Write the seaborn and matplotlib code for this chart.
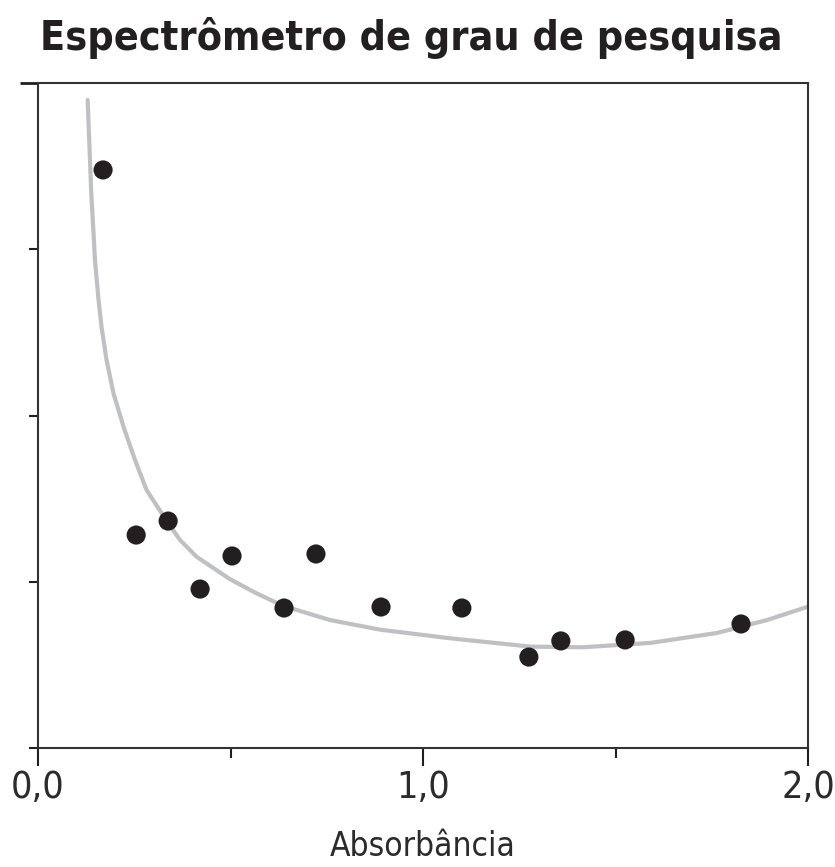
import matplotlib
matplotlib.use("Agg")
import matplotlib.pyplot as plt
import seaborn as sns
import pandas as pd
from matplotlib.ticker import FixedLocator, NullFormatter

sns.set_theme(style="white")
plt.rcParams['font.family'] = ['DejaVu Sans']
plt.rcParams['font.stretch'] = 'condensed'

# measured points
pt_x = [0.169, 0.255, 0.338, 0.421, 0.504, 0.639, 0.722, 0.891, 1.101, 1.275, 1.358, 1.525, 1.826]
pt_y = [3.477, 1.281, 1.365, 0.956, 1.155, 0.842, 1.167, 0.848, 0.842, 0.547, 0.644, 0.650, 0.746]

# reference curve
cv_x = [0.129, 0.138, 0.148, 0.157, 0.165, 0.178, 0.196, 0.222, 0.252, 0.282,
        0.338, 0.369, 0.412, 0.499, 0.568, 0.637, 0.758, 0.888, 1.070, 1.278, 1.416, 1.590,
        1.764, 1.894, 1.997]
cv_y = [3.898, 3.356, 2.935, 2.700, 2.534, 2.334, 2.134, 1.933, 1.732, 1.552,
        1.352, 1.251, 1.150, 1.015, 0.930, 0.855, 0.770, 0.712, 0.660, 0.610, 0.606, 0.632,
        0.692, 0.770, 0.848]

x_ticks = [0.0, 1.0, 2.0]
x_labels = ["0,0", "1,0", "2,0"]
title = "Espectrômetro de grau de pesquisa"
xlabel = "Absorbância"

fig = plt.figure(figsize=(8.35, 8.67), dpi=100)
ax = fig.add_axes([38/835, 1 - 748/867, (808-38)/835, (748-83)/867])

curve = pd.DataFrame({"x": cv_x, "y": cv_y})
pts = pd.DataFrame({"x": pt_x, "y": pt_y})
sns.lineplot(data=curve, x="x", y="y", ax=ax, color="#bfc0c4", linewidth=3.0, sort=False)
sns.scatterplot(data=pts, x="x", y="y", ax=ax, color="#231f20", s=190, edgecolor="none", zorder=3)

ax.set_xlim(0, 2)
ax.set_ylim(0, 4)
ax.xaxis.set_major_locator(FixedLocator(x_ticks))
ax.set_xticklabels(x_labels)
ax.xaxis.set_minor_locator(FixedLocator([0.5, 1.5]))
ax.yaxis.set_major_locator(FixedLocator([4]))
ax.yaxis.set_minor_locator(FixedLocator([0, 1, 2, 3]))
ax.yaxis.set_major_formatter(NullFormatter())
ax.tick_params(axis="x", which="major", direction="out", length=13, width=1.5, color="#231f20",
               labelsize=27, labelcolor="#2b2b2b", pad=3, bottom=True)
ax.tick_params(axis="x", which="minor", direction="out", length=7, width=1.5, color="#231f20", bottom=True)
ax.tick_params(axis="y", which="major", direction="out", length=13, width=2, color="#231f20", left=True)
ax.tick_params(axis="y", which="minor", direction="out", length=6.5, width=1.5, color="#231f20", left=True)

for s in ["left", "right", "top", "bottom"]:
    ax.spines[s].set_visible(True)
    ax.spines[s].set_color("#333333")
    ax.spines[s].set_linewidth(1.5)

ax.set_xlabel(xlabel, fontsize=24, color="#2b2b2b")
ax.xaxis.label.set_va("baseline")
ax.xaxis.set_label_coords(0.5, (748 - 856) / 665)
ax.set_ylabel("")
fig.text(411/835, 1 - 38/867, title, ha="center", va="center", fontsize=29.5,
         fontweight="bold", color="#231f20")

fig.savefig("out.png", dpi=100)
